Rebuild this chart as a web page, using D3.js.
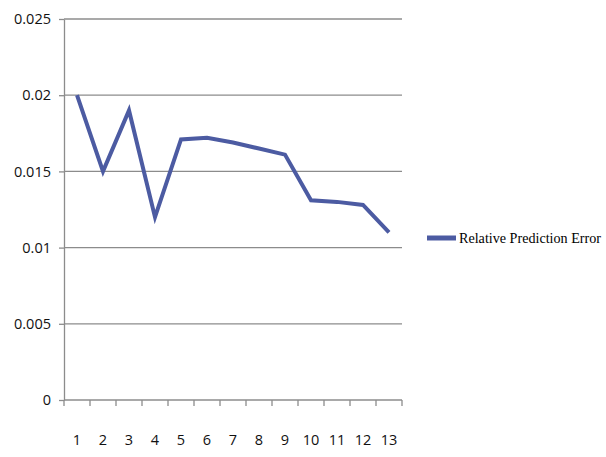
<!DOCTYPE html>
<html>
<head>
<meta charset="utf-8">
<script src="https://cdn.jsdelivr.net/npm/d3@7"></script>
<style>
  body { margin: 0; background: #fff; }
  svg { display: block; }
</style>
</head>
<body>
<div id="chart"></div>
<script>
// chart data
const categories = ['1', '2', '3', '4', '5', '6', '7', '8', '9', '10', '11', '12', '13'];
const errorValues = [0.020, 0.015, 0.019, 0.012, 0.0171, 0.0172, 0.0169, 0.0165, 0.0161, 0.0131, 0.0130, 0.0128, 0.0110];
const yTicks = [0, 0.005, 0.01, 0.015, 0.02, 0.025];
const yTickLabels = ['0', '0.005', '0.01', '0.015', '0.02', '0.025'];
const seriesName = 'Relative Prediction Error';

const width = 606, height = 457;
const plot = { left: 64, right: 402, top: 19, bottom: 400 };
const lineColor = '#4c5ba2';
const gridColor = '#8c8c8c';

const svg = d3.select('#chart').append('svg')
    .attr('width', width)
    .attr('height', height);

const x = d3.scaleBand()
    .domain(categories)
    .range([plot.left, plot.right]);

const y = d3.scaleLinear()
    .domain([0, 0.025])
    .range([plot.bottom, plot.top]);

// horizontal gridlines
svg.append('g').attr('class', 'grid')
    .selectAll('line')
    .data(yTicks.filter(d => d > 0))
    .enter()
    .append('line')
    .attr('x1', plot.left)
    .attr('x2', plot.right)
    .attr('y1', d => y(d))
    .attr('y2', d => y(d))
    .attr('stroke', gridColor)
    .attr('stroke-width', 1.3);

// y axis
const yAxis = svg.append('g')
    .attr('transform', `translate(${plot.left},0)`)
    .call(d3.axisLeft(y)
        .tickValues(yTicks)
        .tickFormat((d, i) => yTickLabels[i])
        .tickSize(5)
        .tickPadding(8)
        .tickSizeOuter(0));

// x axis: ticks on band edges, labels at band centres
const xAxis = svg.append('g')
    .attr('transform', `translate(0,${plot.bottom})`);

xAxis.append('line')
    .attr('x1', plot.left)
    .attr('x2', plot.right)
    .attr('stroke', gridColor)
    .attr('stroke-width', 1.3);

const edges = categories.map(c => x(c)).concat([x(categories[categories.length - 1]) + x.bandwidth()]);
xAxis.selectAll('.edge')
    .data(edges)
    .enter()
    .append('line')
    .attr('class', 'edge')
    .attr('x1', d => d)
    .attr('x2', d => d)
    .attr('y1', 0)
    .attr('y2', 6)
    .attr('stroke', gridColor)
    .attr('stroke-width', 1.3);

xAxis.selectAll('.lbl')
    .data(categories)
    .enter()
    .append('text')
    .attr('class', 'lbl')
    .attr('x', d => x(d) + x.bandwidth() / 2)
    .attr('y', 45)
    .attr('text-anchor', 'middle')
    .text(d => d);

// style axis bits
yAxis.select('.domain').attr('stroke', gridColor).attr('stroke-width', 1.3);
yAxis.selectAll('.tick line').attr('stroke', gridColor).attr('stroke-width', 1.3);
svg.selectAll('text')
    .attr('font-family', '"Open Sans", sans-serif')
    .attr('font-size', 14.5)
    .attr('fill', '#111');

// data line
const line = d3.line()
    .x((d, i) => x(categories[i]) + x.bandwidth() / 2)
    .y(d => y(d));

svg.append('path')
    .datum(errorValues)
    .attr('d', line)
    .attr('fill', 'none')
    .attr('stroke', lineColor)
    .attr('stroke-width', 4)
    .attr('stroke-linejoin', 'miter');

// legend
const legend = svg.append('g').attr('transform', 'translate(427,238)');
legend.append('line')
    .attr('x1', 0)
    .attr('x2', 29)
    .attr('stroke', lineColor)
    .attr('stroke-width', 5);
legend.append('text')
    .attr('x', 32)
    .attr('y', 5)
    .attr('font-family', '"Liberation Serif", serif')
    .attr('font-size', 14)
    .attr('textLength', 142)
    .attr('lengthAdjust', 'spacingAndGlyphs')
    .attr('fill', '#000')
    .text(seriesName);
</script>
</body>
</html>
